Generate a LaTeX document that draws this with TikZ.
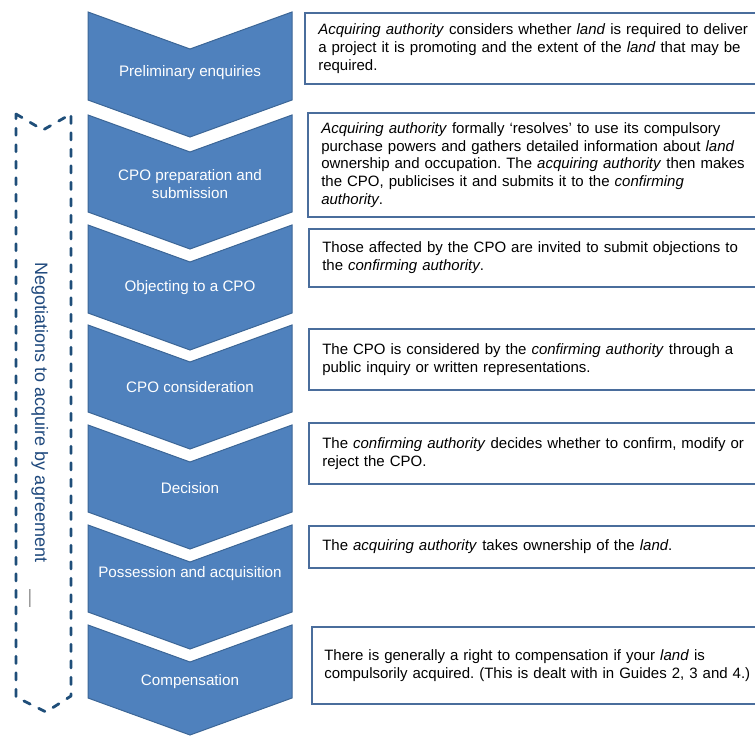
\documentclass[tikz,border=0pt]{standalone}
\usepackage{fontspec}
\setmainfont{Liberation Sans}
\frenchspacing
\definecolor{chevfill}{HTML}{4F81BD}
\definecolor{chevline}{HTML}{3C6696}
\definecolor{boxline}{HTML}{4A6D9C}
\definecolor{negline}{HTML}{1F4E79}
\definecolor{negtext}{HTML}{1F497D}
\tikzset{
  chevron/.style={fill=chevfill, draw=chevline, line width=1bp},
  chevlabel/.style={text=white, align=center, inner sep=0pt,
    font=\fontsize{15.2bp}{18bp}\selectfont},
  descbox/.style={draw=boxline, line width=1.5bp, fill=white, anchor=west,
    text width=440bp, inner xsep=13.5bp, inner ysep=0pt, align=left,
    font=\fontsize{15bp}{17.8bp}\selectfont},
  negoutline/.style={draw=negline, line width=2.8bp, dash pattern=on 7bp off 9.5bp,
    line cap=round, line join=round}
}
\begin{document}
\begin{tikzpicture}[x=1bp,y=-1bp]
\useasboundingbox (0,0) rectangle (755,736);
\clip (0,0) rectangle (755,736);

% chevrons
\foreach \t/\b in {12/100, 115/212, 225/313, 325/412, 425/512, 525/612, 625/698}{
  \draw[chevron] (88,\t) -- (190,\t+37) -- (292,\t) -- (292,\b) -- (190,\b+37) -- (88,\b) -- cycle;
}

% chevron labels
\node[chevlabel] (l1) at (190,73) {Preliminary enquiries};
\node[chevlabel] (l2) at (190,184) {CPO preparation and\\submission};
\node[chevlabel] (l3) at (190,288) {Objecting to a CPO};
\node[chevlabel] (l4) at (190,387) {CPO consideration};
\node[chevlabel] (l5) at (190,488) {Decision};
\node[chevlabel] (l6) at (190,574) {Possession and acquisition};
\node[chevlabel] (l7) at (190,682) {Compensation};

% description boxes
\node[descbox, minimum height=71bp] (d1) at (304,48.5)
  {\textit{Acquiring authority} considers whether \textit{land} is required to deliver\\
   a project it is promoting and the extent of the \textit{land} that may be\\
   required.};
\node[descbox, minimum height=104bp] (d2) at (307,165)
  {\textit{Acquiring authority} formally ‘resolves’ to use its compulsory\\
   purchase powers and gathers detailed information about \textit{land}\\
   ownership and occupation. The \textit{acquiring authority} then makes\\
   the CPO, publicises it and submits it to the \textit{confirming}\\
   \textit{authority}.};
\node[descbox, minimum height=58bp] (d3) at (308,258)
  {Those affected by the CPO are invited to submit objections to\\
   the \textit{confirming authority}.};
\node[descbox, minimum height=61bp] (d4) at (308,359.5)
  {The CPO is considered by the \textit{confirming authority} through a\\
   public inquiry or written representations.};
\node[descbox, minimum height=61bp] (d5) at (308,453.5)
  {The \textit{confirming authority} decides whether to confirm, modify or\\
   reject the CPO.};
\node[descbox, minimum height=42bp] (d6) at (308,547)
  {The \textit{acquiring authority} takes ownership of the \textit{land}.};
\node[descbox, minimum height=77bp, inner xsep=12.5bp] (d7) at (311,665.5)
  {There is generally a right to compensation if your \textit{land} is\\
   compulsorily acquired. (This is dealt with in Guides 2, 3 and 4.)};

% negotiations outline
\draw[negoutline] (16,114) -- (43,130) -- (71,114) -- (71,696) -- (46,712) -- (16,697) -- cycle;
\node[rotate=-90, anchor=base, inner sep=0pt, text=negtext,
  font=\fontsize{18bp}{21bp}\selectfont] (neg) at (35,412.5)
  {Negotiations to acquire by agreement};
\node[rotate=-90, inner sep=0pt, text=gray,
  font=\fontsize{18bp}{21bp}\selectfont] (negdash) at (28,598) {—};
\end{tikzpicture}
\end{document}
